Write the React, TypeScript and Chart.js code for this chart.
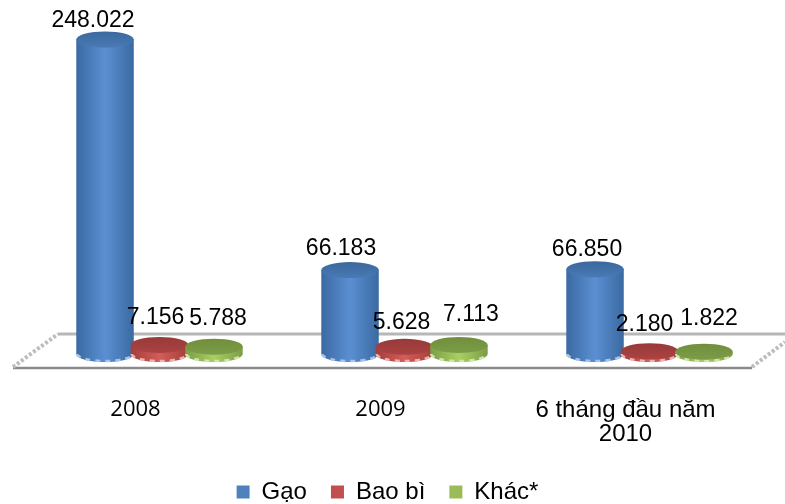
import React, { useEffect, useRef } from "react";
import { Chart, registerables } from "chart.js";

Chart.register(...registerables);

const categories: (string | string[])[] = ["2008", "2009", ["6 tháng đầu năm", "2010"]];
const seriesNames = ["Gạo", "Bao bì", "Khác*"];
const gao = [248022, 66183, 66850];
const baoBi = [7156, 5628, 2180];
const khac = [5788, 7113, 1822];
const seriesValues = [gao, baoBi, khac];
const legendColors = ["#4f81bd", "#c0504d", "#9bbb59"];

// Shades per series: cylinder edge, cylinder centre, cap back, cap front, base rim.
const shades = [
  ["#3b6aa2", "#5a8fd2", "#3a689e", "#4a7ab4", "#a9c3e4"],
  ["#a23e3b", "#d35d5a", "#98393a", "#ab4342", "#e8b4b2"],
  ["#7c9c47", "#a9cf62", "#6f8f3c", "#7d9c48", "#d2e4ad"],
];

// Label nudges relative to each cylinder's centre, [dx, dy], per series then category.
const labelNudge = [
  [[-12, -19], [-9, -21], [-8, -20]],
  [[-4, -27], [-3, -24], [-5, -27]],
  [[4, -28], [12, -30], [5, -33]],
];

const formatValue = (v: number) =>
  String(v).replace(/\B(?=(\d{3})+(?!\d))/g, ".");

// Skips the flat rectangles; cylinders and the floor are painted from the bar elements instead.
const cylinderPlugin = {
  id: "cylinders",
  afterUpdate(chart: any) {
    // The legend sits centred under the front edge of the floor rather than the plot.
    chart.legend.left -= 17;
    chart.legend.right -= 17;
  },
  beforeDatasetDraw() {
    return false;
  },
  beforeDatasetsDraw(chart: any) {
    const { ctx, chartArea: a } = chart;
    const base = a.bottom;
    const backY = base - 20;
    const frontY = base + 14;
    const frontL = a.left - 24;
    const backL = a.left + 21;
    const frontR = a.right - 20;
    ctx.save();
    ctx.lineCap = "butt";
    ctx.strokeStyle = "#b7b7b7";
    ctx.lineWidth = 3;
    ctx.beginPath();
    ctx.moveTo(backL, backY);
    ctx.lineTo(chart.width, backY);
    ctx.stroke();
    ctx.strokeStyle = "#8b8b8b";
    ctx.lineWidth = 2.5;
    ctx.beginPath();
    ctx.moveTo(frontL, frontY);
    ctx.lineTo(frontR, frontY);
    ctx.stroke();
    ctx.strokeStyle = "#bdbdbd";
    ctx.lineWidth = 4;
    ctx.setLineDash([3, 2]);
    ctx.beginPath();
    ctx.moveTo(frontL, frontY - 1);
    ctx.lineTo(backL, backY);
    ctx.moveTo(frontR, frontY - 1);
    ctx.lineTo(chart.width, backY + 8);
    ctx.stroke();
    ctx.restore();
  },
  afterDatasetsDraw(chart: any) {
    const { ctx } = chart;
    seriesValues.forEach((values, s) => {
      const [edge, centre, capBack, capFront, rim] = shades[s];
      chart.getDatasetMeta(s).data.forEach((bar: any) => {
        const rx = bar.width / 2 + 1.5;
        const ry = 8;
        const left = bar.x - rx;
        const right = bar.x + rx;
        const body = ctx.createLinearGradient(left, 0, right, 0);
        body.addColorStop(0, edge);
        body.addColorStop(0.5, centre);
        body.addColorStop(1, edge);
        ctx.fillStyle = body;
        ctx.beginPath();
        ctx.moveTo(left, bar.y);
        ctx.lineTo(left, bar.base);
        ctx.ellipse(bar.x, bar.base, rx, ry, 0, Math.PI, 0, true);
        ctx.lineTo(right, bar.y);
        ctx.closePath();
        ctx.fill();

        ctx.save();
        ctx.strokeStyle = rim;
        ctx.lineWidth = 2.5;
        ctx.setLineDash([5, 5]);
        ctx.beginPath();
        ctx.ellipse(bar.x, bar.base, rx - 1, ry - 1, 0, Math.PI, 0, true);
        ctx.stroke();
        ctx.restore();

        const cap = ctx.createLinearGradient(0, bar.y - ry, 0, bar.y + ry);
        cap.addColorStop(0, capBack);
        cap.addColorStop(1, capFront);
        ctx.fillStyle = cap;
        ctx.beginPath();
        ctx.ellipse(bar.x, bar.y, rx, ry, 0, 0, Math.PI * 2);
        ctx.fill();
      });
    });

    ctx.save();
    ctx.fillStyle = "#000";
    ctx.font = '23px "Liberation Sans"';
    ctx.textAlign = "center";
    ctx.textBaseline = "middle";
    seriesValues.forEach((values, s) => {
      chart.getDatasetMeta(s).data.forEach((bar: any, i: number) => {
        const [dx, dy] = labelNudge[s][i];
        ctx.fillText(formatValue(values[i]), bar.x + dx, bar.y + dy);
      });
    });
    ctx.restore();
  },
};

export default function App() {
  const canvasRef = useRef<HTMLCanvasElement>(null);

  useEffect(() => {
    const chart = new Chart(canvasRef.current!, {
      type: "bar",
      data: {
        labels: categories as any,
        datasets: seriesNames.map((label, s) => ({
          label,
          data: seriesValues[s],
          backgroundColor: legendColors[s],
          categoryPercentage: 0.667,
          barPercentage: 1,
        })),
      },
      plugins: [cylinderPlugin],
      options: {
        animation: false,
        responsive: false,
        layout: { padding: { top: 37, left: 37, right: 13, bottom: -10 } },
        scales: {
          y: { display: false, min: 0, max: 250000 },
          x: {
            grid: { display: false },
            border: { display: false },
            afterFit(scale: any) {
              scale.height = 102;
            },
            ticks: {
              color: "#000",
              autoSkip: false,
              maxRotation: 0,
              padding: 36,
              labelOffset: -24,
              font: (c: any) =>
                c.index < 2
                  ? { family: '"Open Sans"', size: 22, lineHeight: 1.05 }
                  : { family: '"Liberation Sans"', size: 24, lineHeight: 1.0 },
            },
          },
        },
        plugins: {
          tooltip: { enabled: false },
          legend: {
            position: "bottom",
            labels: {
              color: "#000",
              boxWidth: 13,
              boxHeight: 13,
              padding: 24,
              font: { family: '"Liberation Sans"', size: 24 },
            },
          },
        },
      },
    });
    return () => chart.destroy();
  }, []);

  return (
    <div style={{ position: "fixed", left: 0, top: 0, width: 785, height: 504, background: "#fff" }}>
      <canvas ref={canvasRef} width={785} height={504} style={{ display: "block" }} />
    </div>
  );
}
